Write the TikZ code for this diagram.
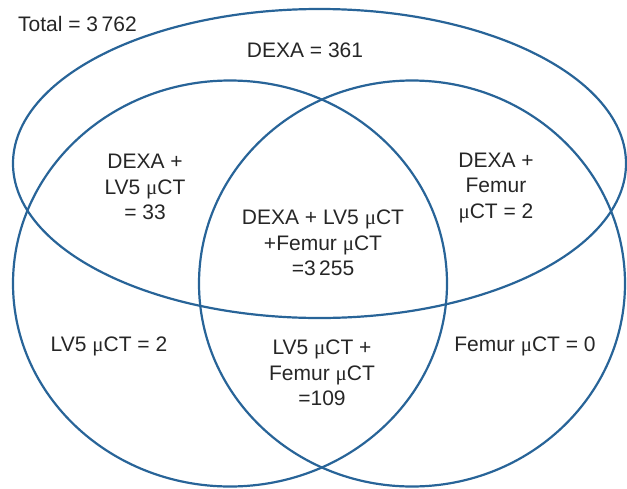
\documentclass[tikz,border=0pt]{standalone}
\usepackage{fontspec}
\setmainfont{Liberation Sans}
\newfontfamily\mufont{Liberation Serif}
\newcommand\mymu{{\mufont μ}}
\begin{document}
\begin{tikzpicture}[x=1pt,y=-1pt,
  setline/.style={draw=vennblue,line width=2.2pt},
  lbl/.style={align=center,inner sep=0pt,font=\fontsize{21}{25.5}\selectfont,text=black!85}]
\definecolor{vennblue}{RGB}{40,100,152}
\useasboundingbox (0,0) rectangle (627,488);
\coordinate (dexa) at (319.5,163.5);
\coordinate (lv) at (230,283.5);
\coordinate (fem) at (412,283.5);
\draw[setline] (dexa) ellipse [x radius=306.5, y radius=154.5];
\draw[setline] (lv) ellipse [x radius=217, y radius=203];
\draw[setline] (fem) ellipse [x radius=213, y radius=203];
\node[lbl,anchor=west] (total) at (18,24) {Total = 3\,762};
\node[lbl] (d) at (305,50) {DEXA = 361};
\node[lbl] (dl) at (145,187) {DEXA +\\LV5 \mymu CT\\= 33};
\node[lbl] (df) at (496,188) {DEXA +\\Femur\\\mymu CT = 2};
\node[lbl] (all) at (323,243) {DEXA + LV5 \mymu CT\\+Femur \mymu CT\\=3\,255};
\node[lbl] (l) at (109,346) {LV5 \mymu CT = 2};
\node[lbl] (lf) at (322,373) {LV5 \mymu CT +\\Femur \mymu CT\\=109};
\node[lbl] (f) at (525,346) {Femur \mymu CT = 0};
\end{tikzpicture}
\end{document}
